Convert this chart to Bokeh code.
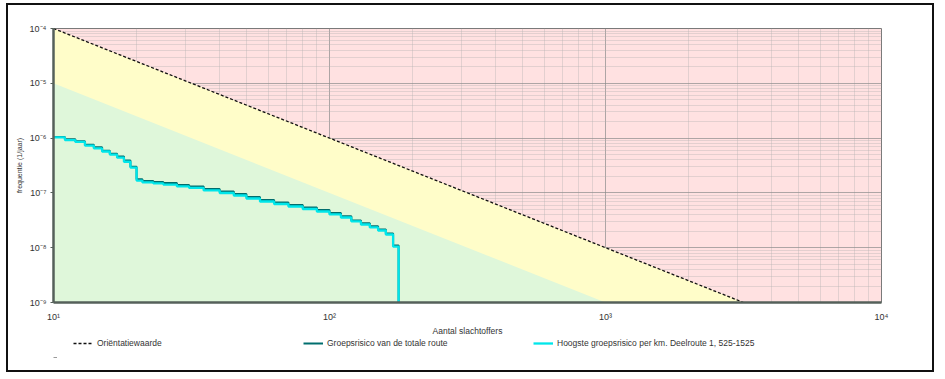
from bokeh.plotting import figure
from bokeh.layouts import column
from bokeh.models import (FixedTicker, CustomJSTickFormatter, Legend, LegendItem, Range1d)
from bokeh.embed import file_html
from bokeh.resources import INLINE

# ---- data -------------------------------------------------------------
slachtoffers = [10, 11, 12, 13, 14, 15, 16, 17, 18, 19, 20, 21, 23, 25, 28, 31, 35,
                40, 45, 50, 56, 63, 71, 80, 90, 100, 110, 120, 130, 140, 150, 160, 170, 178]
totaal = [1.05e-6, 9.5e-7, 8.8e-7, 7.6e-7, 6.8e-7, 5.9e-7, 5.2e-7, 4.6e-7, 3.9e-7, 3.0e-7,
          1.78e-7, 1.65e-7, 1.58e-7, 1.51e-7, 1.39e-7, 1.31e-7, 1.18e-7, 1.06e-7, 9.5e-8,
          8.4e-8, 7.4e-8, 6.65e-8, 6.0e-8, 5.4e-8, 4.85e-8, 4.3e-8, 3.75e-8, 3.15e-8,
          2.8e-8, 2.45e-8, 2.15e-8, 1.82e-8, 1.1e-8, 1e-10]
hoogste = [1.03e-6, 9.2e-7, 8.5e-7, 7.3e-7, 6.5e-7, 5.7e-7, 5.0e-7, 4.4e-7, 3.7e-7, 2.9e-7,
           1.68e-7, 1.55e-7, 1.49e-7, 1.42e-7, 1.31e-7, 1.23e-7, 1.11e-7, 9.96e-8, 8.97e-8,
           7.91e-8, 6.97e-8, 6.27e-8, 5.65e-8, 5.08e-8, 4.58e-8, 4.04e-8, 3.56e-8, 3.01e-8,
           2.65e-8, 2.34e-8, 2.06e-8, 1.74e-8, 1.05e-8, 1e-10]
orient_N = [10, 3162.28]
orient_F = [1e-4, 1e-9]
groen_N = [10, 1000]
groen_F = [1e-5, 1e-9]
x_major = [10, 100, 1000, 10000]
y_major = [1e-9, 1e-8, 1e-7, 1e-6, 1e-5, 1e-4]
x_minor = [m * d for d in x_major[:-1] for m in range(2, 10)]
y_minor = [m * d for d in y_major[:-1] for m in range(2, 10)]

FONT = "Liberation Sans"
C_ORIENT = "#111111"
C_TOT = "#006E6E"
C_HOOG = "#00E6EA"

p = figure(width=924, height=333, x_axis_type="log", y_axis_type="log",
           x_range=Range1d(10, 10000), y_range=Range1d(1e-9, 1e-4),
           output_backend="svg", toolbar_location=None,
           min_border_left=45, min_border_top=23, min_border_right=51, min_border_bottom=36,
           background_fill_color="#FFE1E1", border_fill_color="white")
p.outline_line_color = "#7a7a7a"
p.outline_line_width = 1

# zones
p.varea(x=orient_N, y1=1e-10, y2=orient_F, fill_color="#FFFDC9")
p.varea(x=groen_N, y1=1e-10, y2=groen_F, fill_color="#DFF7DA")

p.line(orient_N, orient_F, line_color=C_ORIENT, line_width=1.3, line_dash="3 2")
p.step(slachtoffers, totaal, mode="after", line_color=C_TOT, line_width=2)
p.step(slachtoffers, hoogste, mode="after", line_color=C_HOOG, line_width=2.3)

fmt = CustomJSTickFormatter(code="""
const e = Math.round(Math.log10(tick));
const sup = {'-':'\u207b','0':'\u2070','1':'\u00b9','2':'\u00b2','3':'\u00b3','4':'\u2074','5':'\u2075','6':'\u2076','7':'\u2077','8':'\u2078','9':'\u2079'};
return '10' + String(e).split('').map(c => sup[c]).join('');
""")

for ax, maj, mnr in ((p.xaxis[0], x_major, x_minor), (p.yaxis[0], y_major, y_minor)):
    ax.ticker = FixedTicker(ticks=maj, minor_ticks=mnr)
    ax.formatter = fmt
    ax.axis_line_color = "#55605a"
    ax.axis_line_width = 2.5
    ax.major_tick_line_color = "#55605a"
    ax.major_tick_out = 3
    ax.major_tick_in = 0
    ax.minor_tick_line_color = None
    ax.major_label_text_font = FONT
    ax.major_label_text_font_size = "9px"
    ax.major_label_text_color = "#333333"
    ax.axis_label_text_font = FONT
    ax.axis_label_text_font_style = "normal"
    ax.axis_label_text_color = "#333333"

p.xaxis.major_tick_line_color = None
p.xaxis.major_tick_out = 0
p.xaxis.major_label_standoff = 5
p.xaxis.axis_label = "Aantal slachtoffers"
p.xaxis.axis_label_text_font_size = "8.5px"
p.xaxis.axis_label_standoff = 1
p.yaxis.axis_label = "frequentie (1/jaar)"
p.yaxis.axis_label_text_font_size = "7px"
p.yaxis.major_label_standoff = 3
p.yaxis.axis_label_standoff = 4

for g in (p.xgrid[0], p.ygrid[0]):
    g.grid_line_color = "#8c8c8c"
    g.grid_line_alpha = 0.7
    g.minor_grid_line_color = "#b0b0b0"
    g.minor_grid_line_alpha = 0.35

# ---- legend strip (frame is aligned with the main plot's frame) ----------
lf = figure(width=924, height=32, x_range=Range1d(0, 1), y_range=Range1d(0, 1),
            output_backend="svg", toolbar_location=None,
            x_axis_location=None, y_axis_location=None,
            min_border=0, min_border_top=0, min_border_bottom=0,
            outline_line_color=None, background_fill_color="white",
            border_fill_color="white")
lf.grid.visible = False
# legend swatches (data lie outside this strip's ranges, so only the swatches show)
g1 = lf.line(orient_N, orient_F, line_color=C_ORIENT, line_width=1.3, line_dash="3 2")
g2 = lf.line(slachtoffers, totaal, line_color=C_TOT, line_width=2)
g3 = lf.line(slachtoffers, hoogste, line_color=C_HOOG, line_width=2.3)
g4 = lf.line(groen_N, groen_F, line_color="#9a9a9a", line_width=1)

legend = Legend(items=[LegendItem(label="Oriëntatiewaarde", renderers=[g1]),
                       LegendItem(label="Groepsrisico van de totale route", renderers=[g2]),
                       LegendItem(label="Hoogste groepsrisico per km. Deelroute 1, 525-1525",
                                  renderers=[g3])],
                location=(20, 22), orientation="horizontal", spacing=0, label_width=206,
                glyph_width=20, glyph_height=10, label_height=10, label_standoff=4,
                padding=0, margin=0, border_line_color=None, background_fill_alpha=0,
                label_text_font=FONT, label_text_font_size="8.5px",
                label_text_color="#333333")
lf.add_layout(legend, "center")

legend2 = Legend(items=[LegendItem(label=" ", renderers=[g4])],
                 location=(0, 8), orientation="horizontal", spacing=0,
                 glyph_width=4, glyph_height=10, label_height=10, label_standoff=0,
                 padding=0, margin=0, border_line_color=None, background_fill_alpha=0,
                 label_text_font=FONT, label_text_font_size="8.5px")
lf.add_layout(legend2, "center")

layout = column(p, lf, spacing=0,
                styles={"border": "2px solid #111111", "margin-left": "6px",
                        "margin-top": "3px"})

open("out.html", "w").write(file_html(layout, INLINE))
